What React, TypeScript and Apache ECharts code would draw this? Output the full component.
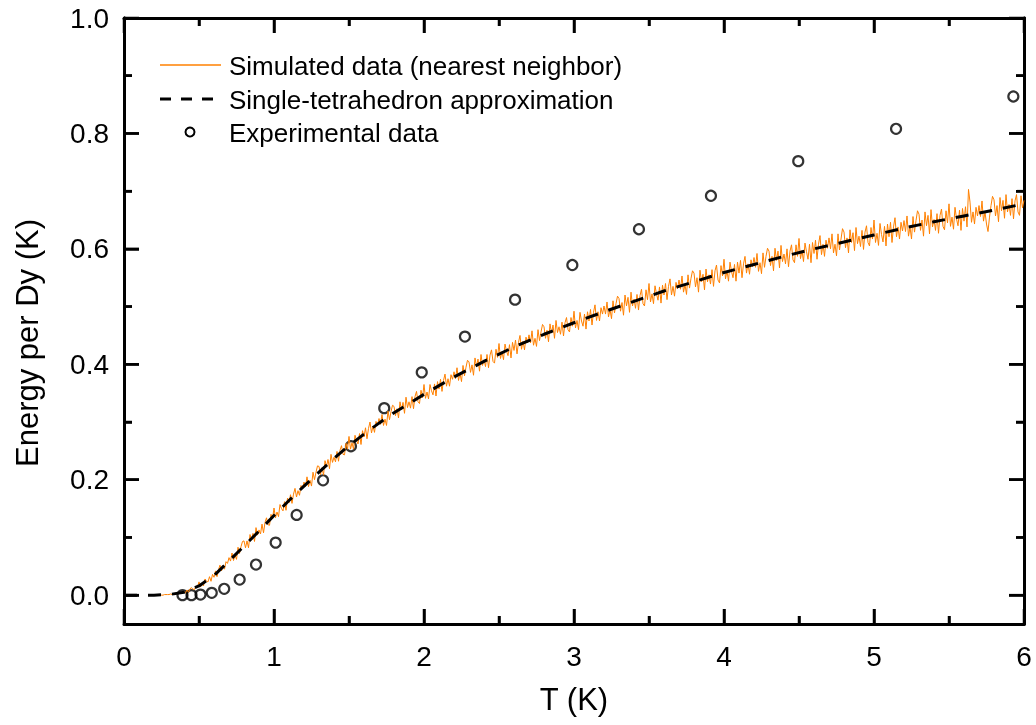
import React, { useEffect, useRef } from "react";
import * as echarts from "echarts";

// ---------- data ----------
const FONT = '"Liberation Sans", Arial, Helvetica, sans-serif';

const seriesNames = [
  "Simulated data (nearest neighbor)",
  "Single-tetrahedron approximation",
  "Experimental data",
];

// axis ticks
const xMajor = [0, 1, 2, 3, 4, 5, 6];
const xMinor = [0.5, 1.5, 2.5, 3.5, 4.5, 5.5];
const yMajor = [0, 0.2, 0.4, 0.6, 0.8, 1.0];
const yMinor = [0.1, 0.3, 0.5, 0.7, 0.9];

// Experimental data (T in K, energy per Dy in K)
const expT = [0.39, 0.45, 0.51, 0.585, 0.668, 0.771, 0.88, 1.011, 1.151, 1.327, 1.513, 1.735, 1.985, 2.273, 2.607, 2.989, 3.433, 3.913, 4.495, 5.147, 5.929];
const expE = [0.0, 0.0, 0.001, 0.004, 0.011, 0.027, 0.053, 0.091, 0.139, 0.199, 0.258, 0.324, 0.386, 0.448, 0.512, 0.572, 0.634, 0.692, 0.752, 0.808, 0.864];

// Single-tetrahedron approximation
const tetraT = [0, 0.1, 0.2, 0.3, 0.4, 0.5, 0.6, 0.7, 0.8, 0.9, 1.0, 1.1, 1.2, 1.3, 1.4, 1.5, 1.6, 1.7, 1.8, 1.9, 2.0, 2.2, 2.4, 2.6, 2.8, 3.0, 3.2, 3.4, 3.6, 3.8, 4.0, 4.2, 4.4, 4.6, 4.8, 5.0, 5.2, 5.4, 5.6, 5.8, 6.0];
const tetraE = [0, 0, 0, 0.001, 0.005, 0.016, 0.034, 0.059, 0.085, 0.111, 0.138, 0.164, 0.189, 0.213, 0.237, 0.259, 0.279, 0.298, 0.316, 0.332, 0.348, 0.378, 0.405, 0.43, 0.452, 0.472, 0.491, 0.509, 0.527, 0.543, 0.559, 0.573, 0.587, 0.6, 0.612, 0.624, 0.636, 0.647, 0.657, 0.667, 0.678];

// Simulated data (nearest neighbor), one value every 0.01 K from 0.20 K to 6.00 K
const simTStart = 0.2;
const simTStep = 0.01;
const simE = [
  0.000, 0.000, 0.000, 0.000, 0.000, 0.000, 0.000, 0.001, 0.001, 0.001,
  0.001, 0.002, 0.001, 0.002, 0.003, 0.002, 0.004, 0.003, 0.005, 0.004,
  0.006, 0.004, 0.009, 0.005, 0.011, 0.013, 0.010, 0.010, 0.016, 0.014,
  0.023, 0.014, 0.020, 0.016, 0.028, 0.024, 0.023, 0.032, 0.024, 0.036,
  0.031, 0.042, 0.032, 0.044, 0.052, 0.042, 0.051, 0.045, 0.058, 0.055,
  0.065, 0.059, 0.073, 0.060, 0.069, 0.062, 0.083, 0.072, 0.084, 0.093,
  0.094, 0.082, 0.094, 0.082, 0.105, 0.096, 0.107, 0.093, 0.117, 0.104,
  0.113, 0.106, 0.123, 0.108, 0.126, 0.134, 0.122, 0.121, 0.140, 0.132,
  0.151, 0.134, 0.144, 0.136, 0.157, 0.150, 0.146, 0.162, 0.147, 0.168,
  0.160, 0.174, 0.159, 0.175, 0.185, 0.170, 0.181, 0.173, 0.190, 0.184,
  0.196, 0.188, 0.205, 0.188, 0.199, 0.189, 0.213, 0.200, 0.213, 0.224,
  0.223, 0.209, 0.221, 0.208, 0.233, 0.223, 0.235, 0.219, 0.244, 0.230,
  0.239, 0.231, 0.249, 0.232, 0.251, 0.259, 0.244, 0.243, 0.263, 0.253,
  0.275, 0.253, 0.264, 0.253, 0.277, 0.268, 0.262, 0.280, 0.261, 0.285,
  0.274, 0.290, 0.271, 0.289, 0.300, 0.281, 0.293, 0.282, 0.301, 0.294,
  0.306, 0.296, 0.313, 0.294, 0.305, 0.294, 0.319, 0.304, 0.318, 0.329,
  0.327, 0.311, 0.323, 0.307, 0.335, 0.321, 0.334, 0.315, 0.343, 0.325,
  0.335, 0.324, 0.344, 0.323, 0.344, 0.353, 0.335, 0.332, 0.355, 0.342,
  0.365, 0.341, 0.352, 0.340, 0.365, 0.354, 0.347, 0.366, 0.345, 0.370,
  0.357, 0.374, 0.353, 0.372, 0.383, 0.362, 0.375, 0.362, 0.382, 0.374,
  0.387, 0.375, 0.394, 0.372, 0.384, 0.370, 0.398, 0.380, 0.395, 0.407,
  0.404, 0.386, 0.399, 0.381, 0.411, 0.396, 0.409, 0.388, 0.417, 0.398,
  0.408, 0.396, 0.417, 0.394, 0.416, 0.425, 0.405, 0.402, 0.426, 0.412,
  0.436, 0.410, 0.422, 0.408, 0.435, 0.423, 0.415, 0.434, 0.411, 0.438,
  0.424, 0.442, 0.418, 0.438, 0.450, 0.426, 0.440, 0.425, 0.447, 0.437,
  0.451, 0.437, 0.458, 0.433, 0.445, 0.431, 0.460, 0.441, 0.456, 0.469,
  0.465, 0.445, 0.459, 0.439, 0.470, 0.454, 0.468, 0.445, 0.476, 0.455,
  0.465, 0.452, 0.473, 0.449, 0.472, 0.481, 0.460, 0.456, 0.481, 0.466,
  0.492, 0.463, 0.476, 0.460, 0.490, 0.475, 0.466, 0.487, 0.461, 0.491,
  0.475, 0.495, 0.468, 0.490, 0.503, 0.476, 0.491, 0.475, 0.498, 0.487,
  0.501, 0.487, 0.508, 0.482, 0.495, 0.479, 0.510, 0.489, 0.505, 0.518,
  0.514, 0.492, 0.507, 0.485, 0.520, 0.501, 0.516, 0.490, 0.525, 0.501,
  0.513, 0.497, 0.521, 0.494, 0.519, 0.530, 0.505, 0.501, 0.529, 0.512,
  0.540, 0.508, 0.522, 0.505, 0.536, 0.522, 0.511, 0.534, 0.506, 0.537,
  0.520, 0.540, 0.512, 0.535, 0.548, 0.520, 0.535, 0.518, 0.542, 0.531,
  0.546, 0.530, 0.553, 0.525, 0.538, 0.521, 0.555, 0.532, 0.549, 0.562,
  0.558, 0.534, 0.550, 0.525, 0.563, 0.543, 0.556, 0.529, 0.565, 0.543,
  0.555, 0.539, 0.564, 0.535, 0.562, 0.572, 0.546, 0.541, 0.571, 0.553,
  0.582, 0.548, 0.562, 0.544, 0.577, 0.561, 0.550, 0.573, 0.544, 0.577,
  0.558, 0.580, 0.550, 0.574, 0.587, 0.558, 0.574, 0.556, 0.581, 0.569,
  0.585, 0.568, 0.592, 0.561, 0.576, 0.557, 0.593, 0.568, 0.587, 0.601,
  0.596, 0.571, 0.587, 0.562, 0.601, 0.580, 0.596, 0.567, 0.606, 0.578,
  0.591, 0.574, 0.600, 0.569, 0.596, 0.607, 0.581, 0.576, 0.607, 0.587,
  0.618, 0.583, 0.597, 0.578, 0.610, 0.595, 0.582, 0.608, 0.576, 0.611,
  0.592, 0.615, 0.582, 0.608, 0.623, 0.590, 0.608, 0.587, 0.615, 0.601,
  0.619, 0.600, 0.626, 0.593, 0.608, 0.588, 0.626, 0.598, 0.617, 0.635,
  0.629, 0.602, 0.619, 0.593, 0.633, 0.611, 0.628, 0.597, 0.637, 0.609,
  0.622, 0.604, 0.632, 0.599, 0.629, 0.640, 0.611, 0.605, 0.637, 0.617,
  0.650, 0.611, 0.627, 0.606, 0.644, 0.625, 0.612, 0.639, 0.605, 0.643,
  0.621, 0.646, 0.611, 0.638, 0.654, 0.621, 0.638, 0.617, 0.646, 0.631,
  0.649, 0.630, 0.657, 0.622, 0.638, 0.617, 0.656, 0.629, 0.649, 0.666,
  0.660, 0.632, 0.650, 0.622, 0.664, 0.640, 0.658, 0.626, 0.668, 0.638,
  0.651, 0.632, 0.661, 0.627, 0.658, 0.669, 0.639, 0.633, 0.666, 0.645,
  0.678, 0.639, 0.655, 0.634, 0.672, 0.652, 0.640, 0.667, 0.632, 0.670,
  0.648, 0.673, 0.638, 0.703, 0.681, 0.646, 0.664, 0.643, 0.672, 0.657,
  0.675, 0.656, 0.683, 0.648, 0.664, 0.643, 0.630, 0.655, 0.675, 0.691,
  0.685, 0.657, 0.675, 0.647, 0.689, 0.666, 0.684, 0.653, 0.694, 0.664,
  0.677, 0.658, 0.687, 0.652, 0.683, 0.694, 0.664, 0.658, 0.692, 0.671,
  0.684,
];

// ---------- component ----------
const X_MIN = 0;
const X_MAX = 6;
const Y_MIN = -0.05;
const Y_MAX = 1.0;

function xAxisCfg(position: string, labels: boolean, name?: string) {
  return {
    type: "value",
    position,
    min: X_MIN,
    max: X_MAX,
    interval: 1,
    axisLine: { show: true, onZero: false, lineStyle: { color: "#000", width: 3 } },
    axisTick: { show: true, inside: true, length: 15, lineStyle: { color: "#000", width: 2.5 } },
    minorTick: { show: true, splitNumber: 2, length: 8, lineStyle: { color: "#000", width: 2.5 } },
    axisLabel: { show: labels, fontSize: 28, color: "#000", fontFamily: FONT, margin: 18 },
    splitLine: { show: false },
    name: name,
    nameLocation: "middle",
    nameGap: 60,
    nameTextStyle: { fontSize: 31, color: "#000", fontFamily: FONT },
  };
}

function yAxisCfg(position: string, ticks: number[], len: number, labels: boolean) {
  return {
    type: "value",
    position,
    min: Y_MIN,
    max: Y_MAX,
    axisLine: { show: true, onZero: false, lineStyle: { color: "#000", width: 3 } },
    axisTick: { show: true, inside: true, length: len, customValues: ticks, lineStyle: { color: "#000", width: 2.5 } },
    axisLabel: {
      show: labels,
      customValues: ticks,
      fontSize: 28,
      color: "#000",
      fontFamily: FONT,
      margin: 15,
      formatter: (v: number) => v.toFixed(1),
    },
    splitLine: { show: false },
  };
}

export default function App() {
  const ref = useRef<HTMLDivElement>(null);

  useEffect(() => {
    if (!ref.current) return;
    const chart = echarts.init(ref.current, null, { renderer: "svg" });

    const simData = simE.map((v, i) => [+(simTStart + i * simTStep).toFixed(2), v]);
    const tetraData = tetraT.map((t, i) => [t, tetraE[i]]);
    const expData = expT.map((t, i) => [t, expE[i]]);

    chart.setOption({
      animation: false,
      grid: { left: 124, right: 12, top: 18, bottom: 101 },
      xAxis: [xAxisCfg("bottom", true, "T (K)"), xAxisCfg("top", false)],
      yAxis: [
        yAxisCfg("left", yMajor, 15, true),
        yAxisCfg("left", yMinor, 8, false),
        yAxisCfg("right", yMajor, 15, false),
        yAxisCfg("right", yMinor, 8, false),
      ],
      series: [
        {
          name: seriesNames[0],
          type: "line",
          xAxisIndex: 0,
          yAxisIndex: 0,
          data: simData,
          showSymbol: false,
          symbol: "none",
          lineStyle: { color: "#ff8000", width: 1 },
        },
        {
          name: seriesNames[1],
          type: "line",
          xAxisIndex: 0,
          yAxisIndex: 0,
          data: tetraData,
          showSymbol: false,
          symbol: "none",
          lineStyle: { color: "#000", width: 3, type: [13, 11] },
        },
        {
          name: seriesNames[2],
          type: "scatter",
          xAxisIndex: 0,
          yAxisIndex: 0,
          data: expData,
          symbol: "circle",
          symbolSize: 10,
          itemStyle: { color: "rgba(0,0,0,0)", borderColor: "#000", borderWidth: 2.2 },
        },
      ],
    });

    // extra inward ticks placed through the chart's own axis scales
    const px = (v: number) => chart.convertToPixel({ xAxisIndex: 0 }, v) as number;
    const py = (v: number) => chart.convertToPixel({ yAxisIndex: 0 }, v) as number;
    const x0 = px(X_MIN);
    const x1 = px(X_MAX);
    const yb = py(Y_MIN);
    const yt = py(Y_MAX);
    const tickEls: any[] = [];
    const mk = (a: number, b: number, c: number, d: number) => ({
      type: "line",
      z: 50,
      shape: { x1: a, y1: b, x2: c, y2: d },
      style: { stroke: "#000", lineWidth: 2.5 },
    });
    const addX = (v: number, len: number) => {
      const x = px(v);
      if (!isFinite(x)) return;
      tickEls.push(mk(x, yb, x, yb - len));
      tickEls.push(mk(x, yt, x, yt + len));
    };
    const addY = (v: number, len: number) => {
      const y = py(v);
      if (!isFinite(y)) return;
      tickEls.push(mk(x0, y, x0 + len, y));
      tickEls.push(mk(x1, y, x1 - len, y));
    };
    if (isFinite(x0) && isFinite(x1) && isFinite(yb) && isFinite(yt)) {
      xMajor.forEach((v) => addX(v, 15));
      xMinor.forEach((v) => addX(v, 8));
      yMajor.forEach((v) => addY(v, 15));
      yMinor.forEach((v) => addY(v, 8));
    }

    const legendX = 160;
    const legendRows = [65, 99, 132];

    chart.setOption({
      graphic: [
        ...tickEls,
        {
          type: "text",
          x: 27,
          y: 343,
          rotation: Math.PI / 2,
          style: {
            text: "Energy per Dy (K)",
            fontSize: 31,
            fontFamily: FONT,
            fill: "#000",
            align: "center",
            verticalAlign: "middle",
          },
        },
        {
          type: "line",
          shape: { x1: legendX, y1: legendRows[0], x2: legendX + 61, y2: legendRows[0] },
          style: { stroke: "#ff8000", lineWidth: 1.5 },
        },
        {
          type: "line",
          shape: { x1: legendX, y1: legendRows[1], x2: legendX + 62, y2: legendRows[1] },
          style: { stroke: "#000", lineWidth: 3, lineDash: [11, 10] },
        },
        {
          type: "circle",
          shape: { cx: legendX + 30, cy: legendRows[2], r: 4.5 },
          style: { fill: "none", stroke: "#000", lineWidth: 2 },
        },
        ...seriesNames.map((n, i) => ({
          type: "text",
          x: 229,
          y: legendRows[i] + 1,
          style: {
            text: n,
            fontSize: 26,
            fontFamily: FONT,
            fill: "#000",
            align: "left",
            verticalAlign: "middle",
          },
        })),
      ],
    });

    return () => chart.dispose();
  }, []);

  return <div ref={ref} style={{ position: "fixed", left: 0, top: 0, width: 1036, height: 725 }} />;
}
